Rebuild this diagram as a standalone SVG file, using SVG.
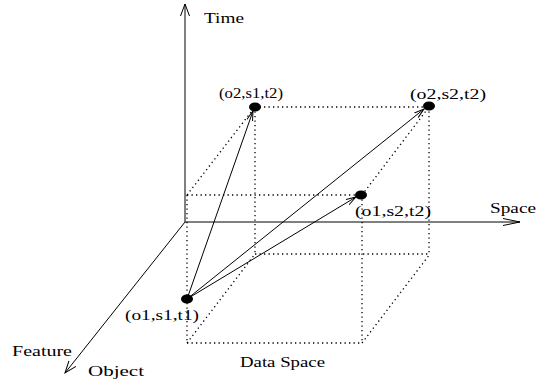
<svg xmlns="http://www.w3.org/2000/svg" width="536" height="384" viewBox="0 0 536 384">
<defs>
<style>
.ax{stroke:#000;stroke-width:1;fill:none}
.dot{stroke:#000;stroke-width:1.3;stroke-dasharray:1.3 3.2;fill:none}
.vec{stroke:#000;stroke-width:1;fill:none;marker-end:url(#vh)}
text{font-family:"Liberation Serif","Times New Roman",serif;font-size:14px;fill:#000}
.pt{fill:#000}
</style>
<marker id="ah" markerUnits="userSpaceOnUse" markerWidth="16" markerHeight="12" refX="12" refY="6" orient="auto">
<path d="M0,1.5 L12,6 L0,10.5" fill="none" stroke="#000" stroke-width="1"/>
</marker>
<marker id="ahx" markerUnits="userSpaceOnUse" markerWidth="20" markerHeight="10" refX="17" refY="5" orient="auto">
<path d="M0,1.5 L17,5 L0,8.5" fill="none" stroke="#000" stroke-width="1"/>
</marker>
<marker id="vh" markerUnits="userSpaceOnUse" markerWidth="12" markerHeight="8" refX="10" refY="4" orient="auto">
<path d="M0,1 L10,4 L0,7" fill="none" stroke="#000" stroke-width="1"/>
</marker>
</defs>
<g id="connectors">
<g id="axes">
<line class="ax" x1="185" y1="222" x2="185" y2="4" marker-end="url(#ah)"/>
<line class="ax" x1="185" y1="222" x2="520" y2="222" marker-end="url(#ahx)"/>
<line class="ax" x1="185" y1="222" x2="65" y2="373" marker-end="url(#ah)"/>
</g>
<g id="cube">
<line class="dot" x1="187" y1="195" x2="361" y2="195"/>
<line class="dot" x1="187" y1="195" x2="187" y2="343"/>
<line class="dot" x1="187" y1="343" x2="362" y2="343"/>
<line class="dot" x1="362" y1="195" x2="362" y2="343"/>
<line class="dot" x1="255" y1="107" x2="428" y2="107"/>
<line class="dot" x1="255" y1="107" x2="255" y2="254"/>
<line class="dot" x1="255" y1="254" x2="430" y2="254"/>
<line class="dot" x1="429" y1="107" x2="429" y2="254"/>
<line class="dot" x1="187" y1="195" x2="255" y2="107"/>
<line class="dot" x1="362" y1="195" x2="429" y2="107"/>
<line class="dot" x1="187" y1="343" x2="255" y2="254"/>
<line class="dot" x1="362" y1="343" x2="430" y2="254"/>
</g>
<g id="vectors">
<line class="vec" x1="187" y1="299" x2="253" y2="111"/>
<line class="vec" x1="187" y1="299" x2="424" y2="109"/>
<line class="vec" x1="187" y1="299" x2="356" y2="197"/>
</g>
</g>
<g id="n-o1s1t1"><ellipse class="pt" cx="187" cy="299" rx="6" ry="4.5"/><text x="125" y="320" textLength="74" lengthAdjust="spacingAndGlyphs">(o1,s1,t1)</text></g>
<g id="n-o2s1t2"><ellipse class="pt" cx="255" cy="107" rx="6" ry="4.5"/><text x="219" y="98" textLength="64" lengthAdjust="spacingAndGlyphs">(o2,s1,t2)</text></g>
<g id="n-o2s2t2"><ellipse class="pt" cx="429" cy="106" rx="6" ry="4.5"/><text x="410" y="99" textLength="76" lengthAdjust="spacingAndGlyphs">(o2,s2,t2)</text></g>
<g id="n-o1s2t2"><ellipse class="pt" cx="361" cy="195" rx="6" ry="4.5"/><text x="355" y="216" textLength="76" lengthAdjust="spacingAndGlyphs">(o1,s2,t2)</text></g>
<g id="labels">
<text x="204" y="23" textLength="40" lengthAdjust="spacingAndGlyphs">Time</text>
<text x="490" y="213" textLength="46" lengthAdjust="spacingAndGlyphs">Space</text>
<text x="12" y="356" textLength="60" lengthAdjust="spacingAndGlyphs">Feature</text>
<text x="88" y="376" textLength="56" lengthAdjust="spacingAndGlyphs">Object</text>
<text x="240" y="367" textLength="85" lengthAdjust="spacingAndGlyphs">Data Space</text>
</g>
</svg>
